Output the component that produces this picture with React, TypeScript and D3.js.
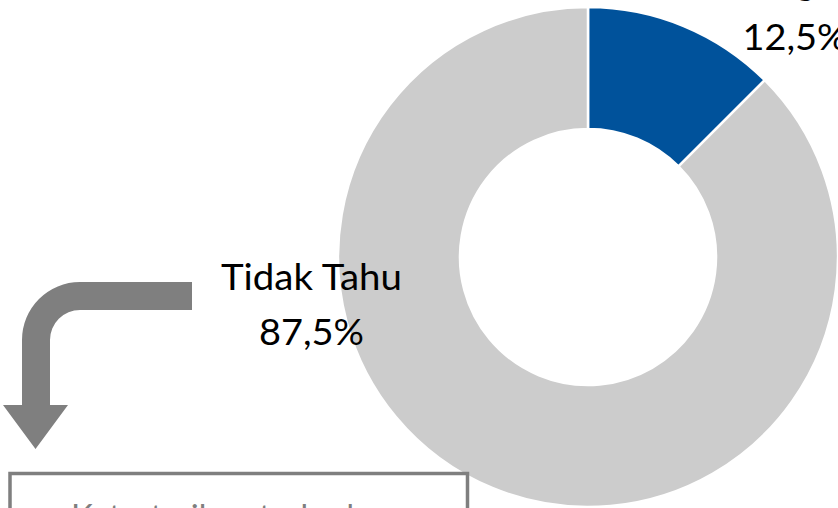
import React, { useEffect } from "react";
import * as d3 from "d3";

const categories = ["Ragu", "Tidak Tahu"];
const values = [12.5, 87.5];
const valueLabels = ["12,5%", "87,5%"];
const colors = ["#00529B", "#CCCCCC"];
const boxText = "Ketertarikan terhadap";

const W = 838;
const H = 508;
const FONT = "Lato, 'Open Sans', sans-serif";

export default function App() {
  useEffect(() => {
    document.body.style.margin = "0";
    document.body.style.overflow = "hidden";
  }, []);

  const cx = 588;
  const cy = 257;
  const outerR = 250;
  const innerR = 128;

  const pie = d3
    .pie<number>()
    .sort(null)
    .value((d) => d)
    .startAngle(0)
    .endAngle(2 * Math.PI);
  const arcs = pie(values);
  const arcGen = d3.arc<d3.PieArcDatum<number>>().innerRadius(innerR).outerRadius(outerR);

  // label positions (centre x, first baseline) and rendered widths
  const labelPos = [
    { x: 795, y: -5, w: 82 },
    { x: 311.5, y: 290, w: 181 },
  ];
  const valueWidth = 105;

  // bent arrow
  const p = d3.path();
  p.moveTo(192, 282);
  p.lineTo(80, 282);
  p.arc(80, 340, 58, -Math.PI / 2, -Math.PI, true);
  p.lineTo(22, 405);
  p.lineTo(3, 405);
  p.lineTo(35.5, 449);
  p.lineTo(68, 405);
  p.lineTo(50, 405);
  p.lineTo(50, 340);
  p.arc(80, 340, 30, Math.PI, (3 * Math.PI) / 2, false);
  p.lineTo(192, 310);
  p.closePath();

  return (
    <svg width={W} height={H} style={{ display: "block" }}>
      <rect width={W} height={H} fill="#ffffff" />
      <g transform={`translate(${cx},${cy})`}>
        {arcs.map((a, i) => (
          <path key={i} d={arcGen(a) || ""} fill={colors[i]} stroke="#ffffff" strokeWidth={2.5} />
        ))}
      </g>
      <path d={p.toString()} fill="#7F7F7F" />
      {categories.map((c, i) => (
        <g key={c} fontFamily={FONT} fontSize={37} fill="#000" textAnchor="middle">
          <text x={labelPos[i].x} y={labelPos[i].y} textLength={labelPos[i].w} lengthAdjust="spacingAndGlyphs">
            {c}
          </text>
          <text x={labelPos[i].x} y={labelPos[i].y + 55} textLength={valueWidth} lengthAdjust="spacingAndGlyphs">
            {valueLabels[i]}
          </text>
        </g>
      ))}
      <rect x={10} y={473.5} width={457.5} height={200} fill="#ffffff" stroke="#7F7F7F" strokeWidth={3.5} />
      <text
        x={71}
        y={528}
        fontFamily={FONT}
        fontSize={32}
        fill="#7F7F7F"
        textLength={318}
        lengthAdjust="spacingAndGlyphs"
      >
        {boxText}
      </text>
    </svg>
  );
}
